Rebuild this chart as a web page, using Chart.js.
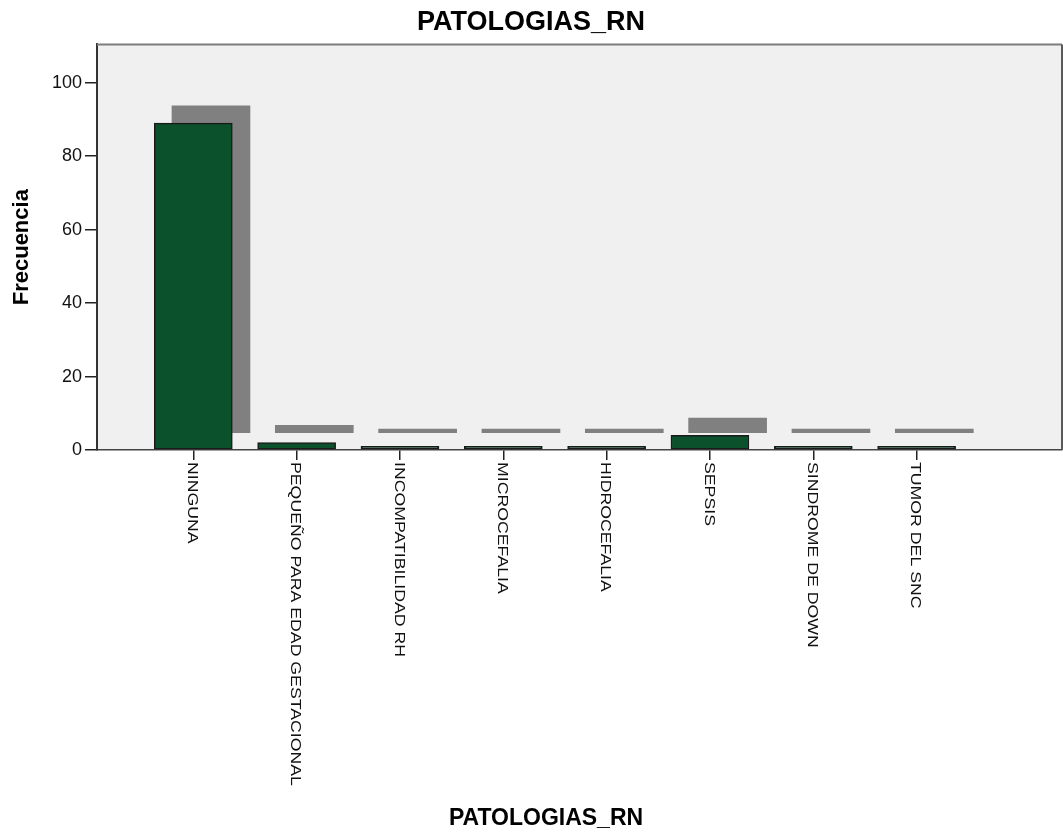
<!DOCTYPE html>
<html>
<head>
<meta charset="utf-8">
<script src="https://cdn.jsdelivr.net/npm/chart.js@4/dist/chart.umd.min.js"></script>
<style>
  html, body { margin: 0; padding: 0; background: #ffffff; }
  #wrap { width: 1063px; height: 836px; }
</style>
</head>
<body>
<div id="wrap"><canvas id="c" width="1063" height="836"></canvas></div>
<script>
// Frequency of newborn pathologies
const categories = [
  'NINGUNA',
  'PEQUEÑO PARA EDAD GESTACIONAL',
  'INCOMPATIBILIDAD RH',
  'MICROCEFALIA',
  'HIDROCEFALIA',
  'SEPSIS',
  'SINDROME DE DOWN',
  'TUMOR DEL SNC'
];
const frecuencias = [89, 2, 1, 1, 1, 4, 1, 1];
const yTickValues = [0, 20, 40, 60, 80, 100];
const chartTitle = 'PATOLOGIAS_RN';
const yAxisTitle = 'Frecuencia';
const xAxisTitle = 'PATOLOGIAS_RN';

const FONT = "'Liberation Sans', Arial, Helvetica, sans-serif";

// drop shadow of each bar: shifted right (category units) and up (value units)
const SHADOW_DX = 0.171;
const SHADOW_DY = 4.72;

const barPoints = frecuencias.map((v, i) => ({ x: i, y: v }));
const shadowPoints = frecuencias.map((v, i) => ({ x: i + SHADOW_DX, y: [SHADOW_DY, v + SHADOW_DY] }));

// plot background and frame
const framePlugin = {
  id: 'frame',
  beforeDraw(chart) {
    const { ctx, chartArea: a } = chart;
    ctx.save();
    ctx.fillStyle = '#f0f0f0';
    ctx.fillRect(a.left, a.top, a.right - a.left, a.bottom - a.top);
    ctx.restore();
  },
  afterDraw(chart) {
    const { ctx, chartArea: a } = chart;
    ctx.save();
    ctx.lineWidth = 2;
    ctx.strokeStyle = '#7d7d7d';
    ctx.beginPath();
    ctx.moveTo(a.left, a.top);
    ctx.lineTo(a.right, a.top);
    ctx.stroke();
    ctx.strokeStyle = '#5a5a5a';
    ctx.beginPath();
    ctx.moveTo(a.right, a.top);
    ctx.lineTo(a.right, a.bottom);
    ctx.stroke();
    ctx.restore();
  }
};

// vertical category labels reading top to bottom, plus the category axis title
const labelPlugin = {
  id: 'catLabels',
  afterDraw(chart) {
    const { ctx, chartArea: a } = chart;
    const xs = chart.scales.x;
    ctx.save();
    ctx.fillStyle = '#111111';
    ctx.font = '15px ' + FONT;
    ctx.textAlign = 'left';
    ctx.textBaseline = 'middle';
    categories.forEach((label, i) => {
      const px = xs.getPixelForValue(i) - 1;
      ctx.save();
      ctx.translate(px, a.bottom + 12);
      ctx.rotate(Math.PI / 2);
      ctx.scale(1.18, 1);
      ctx.fillText(label, 0, 0);
      ctx.restore();
    });
    ctx.font = 'bold 23px ' + FONT;
    ctx.textAlign = 'center';
    ctx.fillStyle = '#000000';
    ctx.fillText(xAxisTitle, 546, 819);
    ctx.restore();
  }
};

new Chart(document.getElementById('c'), {
  type: 'bar',
  data: {
    datasets: [
      {
        label: yAxisTitle,
        data: barPoints,
        backgroundColor: '#0b522c',
        borderColor: '#1a1a1a',
        borderWidth: 1.5,
        borderSkipped: false,
        barThickness: 78,
        grouped: false,
        order: 0
      },
      {
        label: 'sombra',
        data: shadowPoints,
        backgroundColor: '#808080',
        borderWidth: 0,
        barThickness: 78,
        grouped: false,
        order: 1
      }
    ]
  },
  options: {
    responsive: false,
    animation: false,
    events: [],
    layout: { padding: { left: 0, right: 1, top: 0, bottom: 0 } },
    plugins: {
      legend: { display: false },
      tooltip: { enabled: false },
      title: {
        display: true,
        text: chartTitle,
        color: '#000000',
        font: { family: FONT, size: 27, weight: 'bold' },
        padding: { top: 6, bottom: 6 }
      }
    },
    scales: {
      x: {
        type: 'linear',
        min: -0.932,
        max: 8.407,
        offset: false,
        afterBuildTicks(scale) {
          scale.ticks = categories.map((c, i) => ({ value: i }));
        },
        afterFit(scale) { scale.height = 836 - 450; },
        ticks: { display: false },
        grid: { drawOnChartArea: false, drawTicks: true, tickLength: 10, color: '#222222', lineWidth: 1.5, offset: false },
        border: { color: '#444444', width: 1.5 }
      },
      y: {
        min: 0,
        max: 110.45,
        afterBuildTicks(scale) {
          scale.ticks = yTickValues.map(v => ({ value: v }));
        },
        afterFit(scale) { scale.width = 97; },
        ticks: { font: { family: FONT, size: 18 }, color: '#111111', padding: 3 },
        grid: { drawOnChartArea: false, drawTicks: true, tickLength: 12, color: '#222222', lineWidth: 1.5 },
        border: { color: '#333333', width: 2 },
        title: {
          display: true,
          text: yAxisTitle,
          color: '#000000',
          font: { family: FONT, size: 22, weight: 'bold' },
          padding: { top: 9, bottom: 0 }
        }
      }
    }
  },
  plugins: [framePlugin, labelPlugin]
});
</script>
</body>
</html>
